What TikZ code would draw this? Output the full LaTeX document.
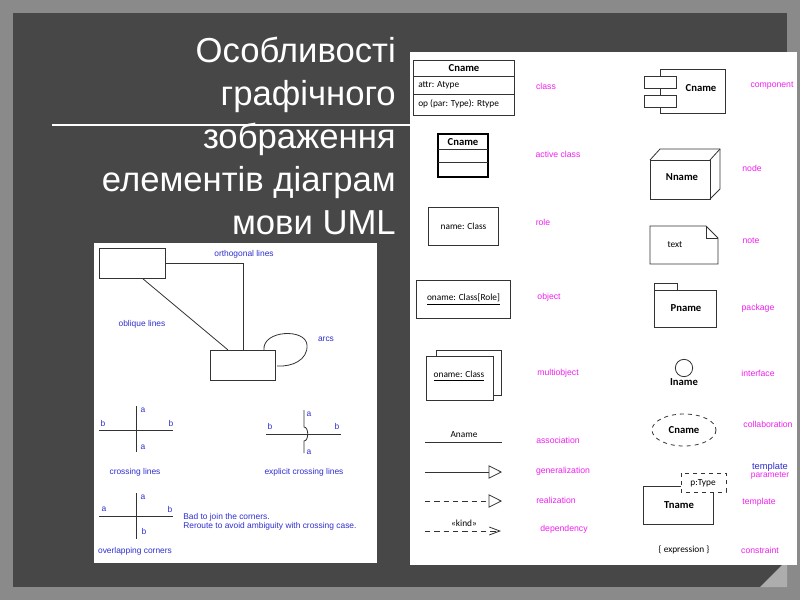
\documentclass[tikz,border=0pt]{standalone}
\usepackage{fontspec}
\setmainfont{Liberation Sans}
\newfontfamily\umlf{Carlito}
\usetikzlibrary{arrows.meta,shapes.geometric,calc}
\definecolor{mag}{HTML}{F020F0}
\definecolor{blu}{HTML}{2F2FD0}
\definecolor{bgd}{HTML}{474747}
\definecolor{bgo}{HTML}{8A8A8A}
\tikzset{
 x=0.75pt,y=-0.75pt,
 lbl/.style={font=\fontsize{6.5}{7}\selectfont,text=mag,inner sep=0},
 bl/.style={font=\fontsize{6.3}{7}\selectfont,text=blu,inner sep=0},
 um/.style={font=\umlf\fontsize{7}{8}\selectfont,inner sep=0},
 umb/.style={font=\umlf\bfseries\fontsize{8}{9}\selectfont,inner sep=0},
 ln/.style={draw=black!80,line width=0.6pt},
}
\begin{document}
\begin{tikzpicture}
\useasboundingbox (0,0) rectangle (800,600);
\fill[bgo] (0,0) rectangle (800,600);
\fill[bgd] (13,13) rectangle (787,587);
\fill[bgo!70] (787,560) -- (760,587) -- (787,587) -- cycle;
% title
\node[align=right,anchor=north east,text=white,font=\fontsize{26}{32.3}\selectfont,inner sep=0] (title) at (396,37)
 {Особливості\\графічного\\зображення\\елементів діаграм\\мови UML};
\draw[white!80,line width=0.8pt] (52,125) -- (410,125);
% panels
\fill[white] (94,243) rectangle (377,563);
\fill[white] (410,52) rectangle (797,565);
% ---- left panel
\node[ln,minimum width=49pt,minimum height=22.5pt,inner sep=0] (b1) at (132.5,263) {};
\node[ln,minimum width=49pt,minimum height=23pt,inner sep=0] (b2) at (243,365.5) {};
\draw[ln] (b1.east) -- (243,263) -- (b2.north);
\draw[ln] ($(b1.south west)!0.65!(b1.south east)$) -- ($(b2.north west)!0.27!(b2.north east)$);
\draw[ln] (264,350) .. controls (262,330) and (306,328) .. (307,345) .. controls (308,360) and (292,367) .. (277,366);
\node[bl] (t1) at (244,254) {orthogonal lines};
\node[bl] (t2) at (142,324) {oblique lines};
\node[bl] (t3) at (326,339) {arcs};
% crossing
\coordinate (c1l) at (99,430); \coordinate (c1r) at (173,430);
\coordinate (c1t) at (136,406); \coordinate (c1b) at (136,452);
\draw[ln] (c1l) -- (c1r); \draw[ln] (c1t) -- (c1b);
\node[bl] at (143,410) {a}; \node[bl] at (143,447) {a};
\node[bl] at (103,423) {b}; \node[bl] at (171,423) {b};
\node[bl] (t4) at (135,472) {crossing lines};
% explicit
\coordinate (c2l) at (266,434); \coordinate (c2r) at (341,434);
\coordinate (c2t) at (304,410); \coordinate (c2b) at (304,453);
\draw[ln] (c2l) -- (c2r);
\draw[ln] (c2t) -- (304,427) .. controls (309,427) and (309,441) .. (304,441) -- (c2b);
\node[bl] at (309,414) {a}; \node[bl] at (309,452) {a};
\node[bl] at (270,426) {b}; \node[bl] at (337,426) {b};
\node[bl] (t5) at (304,472) {explicit crossing lines};
% overlapping
\coordinate (c3l) at (99,516); \coordinate (c3r) at (173,516);
\coordinate (c3t) at (136,493); \coordinate (c3b) at (136,539);
\draw[ln] (c3l) -- (c3r); \draw[ln] (c3t) -- (c3b);
\node[bl] at (143,497) {a}; \node[bl] at (104,509) {a};
\node[bl] at (170,509) {b}; \node[bl] at (144,531) {b};
\node[bl] (t6) at (135,551) {overlapping corners};
\node[bl,anchor=west,align=left] (t7) at (183,522) {Bad to join the corners.\\Reroute to avoid ambiguity with crossing case.};
% ---- right panel, left column
\draw[ln] (413,60) rectangle (514,115);
\draw[ln] (413,76.5) -- (514,76.5); \draw[ln] (413,94) -- (514,94);
\node[umb] (cn) at (464,68) {Cname};
\node[um,anchor=west] (at) at (418,85) {attr: Atype};
\node[um,anchor=west] (op) at (418,104) {op (par: Type): Rtype};
\node[lbl] (l1) at (546,86) {class};
\draw[line width=1.5pt] (438,134) rectangle (488,177);
\draw[ln] (438,149) -- (488,149); \draw[ln] (438,162) -- (488,162);
\node[umb] (cn2) at (463,142) {Cname};
\node[lbl] (l2) at (558,154) {active class};
\node[ln,minimum width=52pt,minimum height=28.5pt] (role) at (463.5,226) {};
\node[um] at (role) {name: Class};
\node[lbl] (l3) at (543,222) {role};
\node[ln,minimum width=70pt,minimum height=28pt] (obj) at (463.5,299.5) {};
\node[um] at (obj) {\underline{oname: Class[Role]}};
\node[lbl] (l4) at (549,297) {object};
\filldraw[ln,fill=white] (436,350) rectangle (501,395);
\filldraw[ln,fill=white] (426,356) rectangle (493,400);
\node[um] (mo) at (459,376) {\underline{oname: Class}};
\node[lbl] (l5) at (558,373) {multiobject};
\coordinate (a1) at (425,442); \coordinate (a2) at (502,442);
\draw[ln] (a1) -- (a2);
\node[um] at (464,435) {Aname};
\node[lbl] (l6) at (558,440) {association};
\coordinate (g1) at (425,472); \coordinate (g2) at (502,472);
\draw[ln,-{Triangle[open,length=10pt,width=10pt]}] (g1) -- (g2);
\node[lbl] (l7) at (563,471) {generalization};
\coordinate (r1) at (425,501); \coordinate (r2) at (502,501);
\draw[ln,dash pattern=on 4pt off 3pt,-{Triangle[open,length=10pt,width=10pt]}] (r1) -- (r2);
\node[lbl] (l8) at (556,500) {realization};
\coordinate (d1) at (425,531); \coordinate (d2) at (501,531);
\draw[ln,dash pattern=on 4pt off 3pt,-{Straight Barb[length=8pt,width=6pt]}] (d1) -- (d2);
\node[um] at (464,523) {«kind»};
\node[lbl] (l9) at (564,529) {dependency};
% ---- right column
\draw[ln] (660,69) rectangle (725,113);
\filldraw[ln,fill=white] (644,76) rectangle (676,88);
\filldraw[ln,fill=white] (644,95) rectangle (676,107);
\node[umb] (cmp) at (701,88) {Cname};
\node[lbl] (l10) at (772,86) {component};
\draw[ln] (650,160) rectangle (710,199);
\draw[ln] (650,160) -- (660,149) -- (720,149) -- (720,189) -- (710,199);
\draw[ln] (710,160) -- (720,149);
\node[umb] (nd) at (682,177) {Nname};
\node[lbl] (l11) at (752,168) {node};
\draw[ln] (650,226) -- (706,226) -- (718,238) -- (718,264) -- (650,264) -- cycle;
\draw[ln] (706,226) -- (706,238) -- (718,238);
\node[um] (nt) at (675,245) {text};
\node[lbl] (l12) at (751,241) {note};
\draw[ln] (654,290) -- (654,283) -- (677,283) -- (677,290);
\draw[ln] (654,290) rectangle (716,327);
\node[umb] (pk) at (686,308) {Pname};
\node[lbl] (l13) at (758,308) {package};
\node[ln,circle,minimum size=13pt,inner sep=0] (ic) at (684,368) {};
\node[umb] (in) at (684,382) {Iname};
\node[lbl] (l14) at (758,373) {interface};
\draw[ln,dashed] (684,430) ellipse (32 and 16);
\node[umb] (co) at (684,430) {Cname};
\node[lbl] (l15) at (768,424) {collaboration};
\draw[ln] (643,486) rectangle (713,524);
\filldraw[ln,fill=white,dashed] (681,473) rectangle (726,492);
\node[um] (pt) at (703,483) {p:Type};
\node[umb] (tn) at (679,505) {Tname};
\node[bl,align=center] (l16) at (770,471) {\fontsize{7}{7.5}\selectfont template\\[-1pt]{\color{mag}parameter}};
\node[lbl] (l17) at (759,502) {template};
\node[um] (ex) at (684,550) {\{ expression \}};
\node[lbl] (l18) at (760,550) {constraint};
\end{tikzpicture}
\end{document}
